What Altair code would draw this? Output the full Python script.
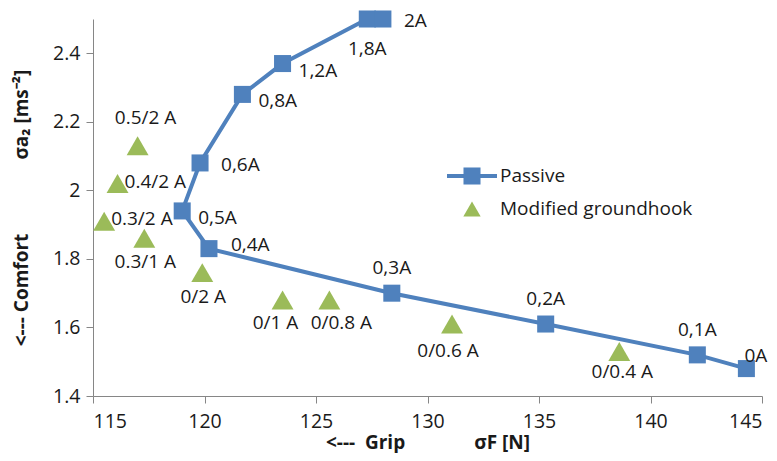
import altair as alt
import pandas as pd

# ---- data ----
passive_labels = ["0A", "0,1A", "0,2A", "0,3A", "0,4A", "0,5A", "0,6A", "0,8A", "1,2A", "1,8A", "2A"]
passive_grip = [144.3, 142.1, 135.3, 128.4, 120.2, 119.0, 119.8, 121.7, 123.5, 127.3, 128.0]
passive_comfort = [1.48, 1.52, 1.61, 1.70, 1.83, 1.94, 2.08, 2.28, 2.37, 2.50, 2.50]
passive_place = ["corner", "above", "above", "above", "right_up", "right_dn", "right", "right_dn", "right_dn", "below", "right"]

mod_labels = ["0.5/2 A", "0.4/2 A", "0.3/2 A", "0.3/1 A", "0/2 A", "0/1 A", "0/0.8 A", "0/0.6 A", "0/0.4 A"]
mod_grip = [117.0, 116.1, 115.5, 117.3, 119.9, 123.5, 125.6, 131.1, 138.6]
mod_comfort = [2.13, 2.02, 1.91, 1.86, 1.76, 1.68, 1.68, 1.61, 1.53]
mod_place = ["above", "right", "right", "below", "below", "below_l", "below_r", "below_far", "below_near"]

series_names = ["Passive", "Modified groundhook"]
x_ticks = [115, 120, 125, 130, 135, 140, 145]
y_ticks = [1.4, 1.6, 1.8, 2.0, 2.2, 2.4]

# ---- styles ----
BLUE = "#4F81BD"
GREEN = "#9BBB59"
FONT = "Open Sans"
NB = "\u00a0"
LABEL_SIZE = 19
TXT = "#1a1a1a"

PASSIVE_OFFSETS = {
    "corner": (21, -13, "right"),
    "above": (0, -25, "center"),
    "right": (21, 2, "left"),
    "right_up": (22, -4, "left"),
    "right_dn": (16, 7, "left"),
    "below": (0, 30, "center"),
}
MOD_OFFSETS = {
    "above": (8, -28, "center"),
    "right": (7, -2, "left"),
    "below": (1, 24, "center"),
    "below_l": (-7, 23, "center"),
    "below_r": (12, 23, "center"),
    "below_far": (-4, 27, "center"),
    "below_near": (3, 21, "center"),
}

passive = pd.DataFrame({"label": passive_labels, "grip": passive_grip,
                        "comfort": passive_comfort, "place": passive_place,
                        "order": list(range(len(passive_labels)))})
mod = pd.DataFrame({"label": mod_labels, "grip": mod_grip,
                    "comfort": mod_comfort, "place": mod_place})

W, H = 669, 377

x_enc = alt.X("grip:Q",
              scale=alt.Scale(domain=[115, 145], nice=False, zero=False),
              axis=alt.Axis(values=x_ticks, labelPadding=9,
                            title="<---" + NB * 2 + "Grip" + NB * 14 + "σF [N]",
                            titleY=46, titleBaseline="middle"))
y_enc = alt.Y("comfort:Q",
              scale=alt.Scale(domain=[1.4, 2.5], nice=False, zero=False),
              axis=alt.Axis(values=y_ticks, format="~g", labelPadding=6,
                            title="<---" + NB + "Comfort" + NB * 15 + "σa₂ [ms⁻²]",
                            titleX=-72, titleBaseline="middle"))

line = alt.Chart(passive).mark_line(color=BLUE, strokeWidth=4).encode(
    x=x_enc, y=y_enc, order="order:Q")
squares = alt.Chart(passive).mark_point(shape="square", filled=True, size=290,
                                        color=BLUE, opacity=1).encode(x="grip:Q", y="comfort:Q")
triangles = alt.Chart(mod).mark_point(shape="triangle-up", filled=True, size=480,
                                      color=GREEN, opacity=1).encode(x="grip:Q", y="comfort:Q")

layers = [line, squares, triangles]
for df, offsets in ((passive, PASSIVE_OFFSETS), (mod, MOD_OFFSETS)):
    for place, (dx, dy, align) in offsets.items():
        sub = df[df["place"] == place]
        if len(sub) == 0:
            continue
        layers.append(
            alt.Chart(sub).mark_text(dx=dx, dy=dy, align=align, baseline="middle",
                                     font=FONT, fontSize=LABEL_SIZE, color=TXT)
            .encode(x="grip:Q", y="comfort:Q", text="label:N"))

# ---- legend (drawn manually to show line + marker) ----
leg = pd.DataFrame({"name": series_names})
leg_p = leg[leg["name"] == series_names[0]]
leg_m = leg[leg["name"] == series_names[1]]
layers.append(alt.Chart(leg_p).mark_rule(color=BLUE, strokeWidth=4).encode(
    x=alt.value(354), x2=alt.value(404), y=alt.value(157)))
layers.append(alt.Chart(leg_p).mark_point(shape="square", filled=True, size=290,
                                          color=BLUE, opacity=1).encode(
    x=alt.value(379), y=alt.value(157)))
layers.append(alt.Chart(leg_m).mark_point(shape="triangle-up", filled=True, size=300,
                                          color=GREEN, opacity=1).encode(
    x=alt.value(379), y=alt.value(190)))
for sub, yy in ((leg_p, 157), (leg_m, 190)):
    layers.append(alt.Chart(sub).mark_text(align="left", baseline="middle", font=FONT,
                                           fontSize=LABEL_SIZE, color=TXT).encode(
        x=alt.value(407), y=alt.value(yy), text="name:N"))

chart = alt.layer(*layers).properties(
    width=W, height=H,
    autosize=alt.AutoSizeParams(type="none"),
    padding={"left": 85, "top": 11, "right": 7, "bottom": 57},
).configure_view(stroke=None).configure_axis(
    grid=False, domainColor="#868686", tickColor="#868686", tickSize=7,
    labelFont=FONT, labelFontSize=19.5, labelColor=TXT,
    titleFont=FONT, titleFontSize=19, titleFontWeight="bold", titleColor=TXT,
)

chart.save("out.html", embed_options={"renderer": "svg", "actions": False})
